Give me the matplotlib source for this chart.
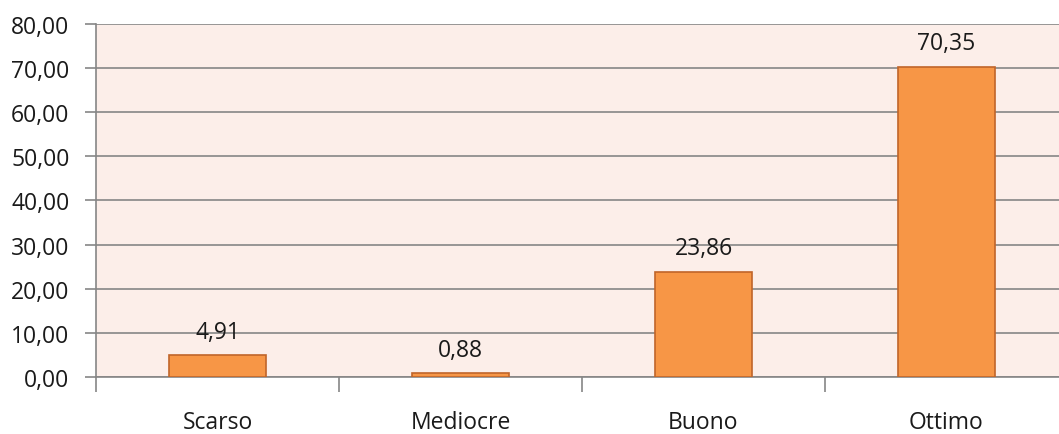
import matplotlib
matplotlib.use("Agg")
import matplotlib.pyplot as plt
from matplotlib.ticker import FixedLocator, NullFormatter

categories = ["Scarso", "Mediocre", "Buono", "Ottimo"]
values = [4.91, 0.88, 23.86, 70.35]
y_ticks = [0, 10, 20, 30, 40, 50, 60, 70, 80]

def it_fmt(v):
    return f"{v:.2f}".replace(".", ",")

plt.rcParams["font.family"] = ["Open Sans", "DejaVu Sans"]
FS = 16.5
TXT = "#1a1a1a"

fig = plt.figure(figsize=(10.59, 4.35), dpi=100)
ax = fig.add_axes([96 / 1059, 1 - 378 / 435, (1068 - 96) / 1059, (378 - 25) / 435])
ax.set_facecolor("#FCEEE9")

x = list(range(len(categories)))
ax.bar(x, values, width=0.4, color="#F79646", edgecolor="#C0652A", linewidth=1.2, zorder=3)

for xi, v in zip(x, values):
    ax.annotate(it_fmt(v), (xi, v), xytext=(0, 12.5), textcoords="offset points",
                ha="center", va="baseline", fontsize=FS, color=TXT, zorder=4)

ax.set_xlim(-0.5, len(categories) - 0.5)
ax.set_ylim(0, 80)
ax.set_yticks(y_ticks)
ax.set_yticklabels([it_fmt(t) for t in y_ticks])
ax.yaxis.grid(True, color="#868686", linewidth=1.2, zorder=1)
ax.set_axisbelow(True)

ax.set_xticks(x)
ax.set_xticklabels(categories)
ax.xaxis.set_minor_locator(FixedLocator([i - 0.5 for i in range(len(categories) + 1)]))
ax.xaxis.set_minor_formatter(NullFormatter())
ax.tick_params(axis="x", which="major", length=0, pad=24, labelsize=FS, labelcolor=TXT)
ax.tick_params(axis="x", which="minor", length=11, width=1.2, color="#868686")
ax.tick_params(axis="y", length=8, width=1.2, color="#868686", pad=11, labelsize=FS, labelcolor=TXT)

for side in ("top", "right"):
    ax.spines[side].set_visible(False)
for side in ("left", "bottom"):
    ax.spines[side].set_color("#868686")
    ax.spines[side].set_linewidth(1.2)

fig.savefig("out.png", dpi=100)
